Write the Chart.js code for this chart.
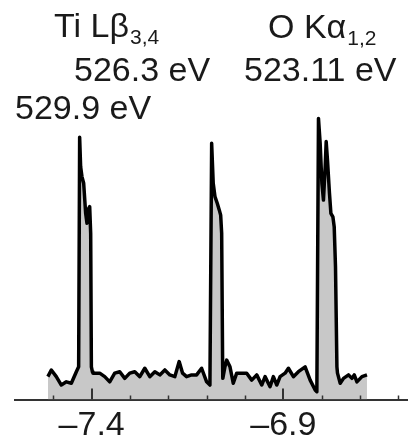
<!DOCTYPE html>
<html>
<head>
<meta charset="utf-8">
<script src="https://cdn.jsdelivr.net/npm/chart.js@4/dist/chart.umd.min.js"></script>
<style>
	body { margin: 0; background: #fff; }
	#wrap { width: 408px; height: 442px; position: relative; }
</style>
</head>
<body>
<div id="wrap"><canvas id="c"></canvas></div>
<script>
// spectrum (x: axis units, y: intensity, 0 = axis line)
const xs = [
	-7.5142, -7.5053, -7.4923, -7.4792, -7.4661, -7.4531, -7.4400, -7.4340,
	-7.4314, -7.4288, -7.4254, -7.4209, -7.4157, -7.4123, -7.4097, -7.4052, -7.4026, -7.4008, -7.3982,
	-7.3966, -7.3791, -7.3660, -7.3530, -7.3399, -7.3268, -7.3137, -7.3007, -7.2876, -7.2745,
	-7.2615, -7.2484, -7.2353, -7.2223, -7.2092, -7.1961, -7.1831, -7.1718, -7.1629, -7.1525,
	-7.1394, -7.1263, -7.1133, -7.1002, -7.0916,
	-7.0871, -7.0830, -7.0785, -7.0725, -7.0673, -7.0636, -7.0610, -7.0584, -7.0580,
	-7.0524, -7.0479, -7.0393, -7.0307, -7.0218, -7.0087, -6.9957, -6.9826, -6.9695, -6.9565,
	-6.9478, -6.9348, -6.9261, -6.9173, -6.9086, -6.8956, -6.8869, -6.8739, -6.8608, -6.8433,
	-6.8302, -6.8171, -6.8127,
	-6.8085, -6.8041, -6.7996, -6.7955, -6.7910, -6.7884, -6.7850, -6.7798, -6.7761, -6.7709,
	-6.7675, -6.7641, -6.7604, -6.7589,
	-6.7518, -6.7432, -6.7301, -6.7212, -6.7152, -6.7082, -6.6951, -6.6820
];
const ys = [
	7.9, 10.2, 7.9, 5.0, 6.1, 5.6, 9.6, 11.3,
	90.6, 80.4, 77.0, 74.7, 64.3, 60.9, 65.5, 66.6, 57.4, 11.3, 9.6,
	9.1, 9.1, 7.9, 6.1, 9.1, 9.6, 7.3, 9.1, 9.6, 7.9,
	10.8, 7.9, 9.6, 8.5, 10.2, 8.5, 7.9, 13.1, 9.1, 7.9,
	8.5, 8.5, 10.8, 6.1, 5.0,
	88.5, 74.7, 70.1, 67.8, 65.5, 63.7, 57.5, 11.3, 7.3,
	11.3, 13.6, 11.3, 5.6, 9.1, 9.1, 9.1, 6.7, 8.5, 5.0,
	7.9, 4.4, 7.9, 5.0, 7.9, 9.1, 10.8, 7.9, 9.6, 11.3,
	6.7, 3.3, 2.7,
	97.1, 88.5, 74.7, 68.9, 80.4, 89.1, 82.7, 71.2, 64.3, 63.1,
	59.7, 45.9, 11.3, 9.1,
	5.6, 7.3, 8.5, 7.3, 8.5, 6.1, 7.9, 8.5
];
const majorTicks = [-7.4, -6.9];
const minorTicks = [-7.5, -7.3, -7.2, -7.1, -7.0, -6.8, -6.7, -6.6];

const FONT = "'Liberation Sans', Arial, sans-serif";

const upTicks = {
	id: "upTicks",
	afterDraw(chart) {
		const ctx = chart.ctx;
		const sx = chart.scales.x;
		const bottom = chart.chartArea.bottom;
		ctx.save();
		ctx.strokeStyle = "#333";
		ctx.lineWidth = 1.5;
		for (let v of minorTicks) {
			let px = Math.round(sx.getPixelForValue(v)) + 0.5;
			ctx.beginPath();
			ctx.moveTo(px, bottom);
			ctx.lineTo(px, bottom - 4);
			ctx.stroke();
		}
		ctx.lineWidth = 2;
		for (let v of majorTicks) {
			let px = Math.round(sx.getPixelForValue(v));
			ctx.beginPath();
			ctx.moveTo(px, bottom);
			ctx.lineTo(px, bottom - 11);
			ctx.stroke();
		}
		ctx.restore();
	}
};

// peak labels with subscripts
const peakLabels = {
	id: "peakLabels",
	afterDraw(chart) {
		const ctx = chart.ctx;
		ctx.save();
		ctx.fillStyle = "#1a1a1a";
		ctx.textBaseline = "alphabetic";
		function put(parts, x, y) {
			for (let p of parts) {
				ctx.font = (p.sub ? "21px " : "34px ") + FONT;
				ctx.fillText(p.t, x, y + (p.sub ? 7 : 0));
				x += ctx.measureText(p.t).width + (p.sub ? 0 : 1);
			}
		}
		put([{ t: "Ti L\u03b2" }, { t: "3,4", sub: true }], 54, 37);
		put([{ t: "O K\u03b1" }, { t: "1,2", sub: true }], 268, 38);
		put([{ t: "526.3 eV" }], 74, 81);
		put([{ t: "523.11 eV" }], 244, 81);
		put([{ t: "529.9 eV" }], 15, 119);
		ctx.restore();
	}
};

new Chart(document.getElementById("c"), {
	type: "line",
	data: {
		datasets: [{
			data: xs.map((x, i) => ({ x: x, y: ys[i] })),
			borderColor: "#000",
			borderWidth: 3.5,
			borderJoinStyle: "round",
			backgroundColor: "#c8c8c8",
			fill: "origin",
			pointRadius: 0,
			tension: 0
		}]
	},
	options: {
		responsive: true,
		maintainAspectRatio: false,
		animation: false,
		layout: { padding: { left: 15, right: 0, top: 110, bottom: 0 } },
		plugins: { legend: { display: false }, tooltip: { enabled: false } },
		scales: {
			x: {
				type: "linear",
				min: -7.6,
				max: -6.575,
				afterBuildTicks: s => { s.ticks = majorTicks.map(v => ({ value: v })); },
				afterFit: s => { s.height = 42.5; },
				grid: { display: false, drawTicks: false },
				border: { display: true, color: "#333", width: 2 },
				ticks: {
					padding: 6,
					color: "#1a1a1a",
					font: { family: FONT, size: 34 },
					callback: v => String(v).replace("-", "\u2013")
				}
			},
			y: {
				display: false,
				min: 0,
				max: 100
			}
		}
	},
	plugins: [upTicks, peakLabels]
});
</script>
</body>
</html>
